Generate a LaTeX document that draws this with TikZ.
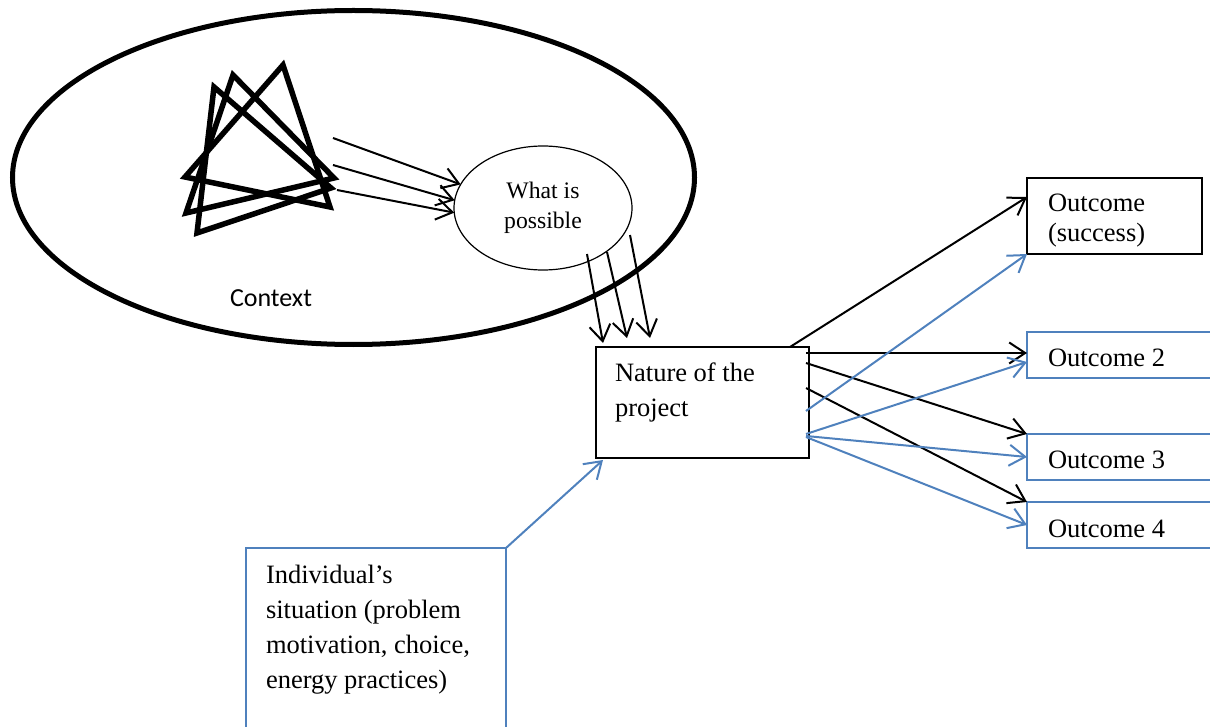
\documentclass[tikz,border=0pt]{standalone}
\usepackage{fontspec}
\setmainfont{Liberation Serif}
\newfontfamily\ctxfont{Carlito}
\usetikzlibrary{arrows.meta,shapes.geometric}
\definecolor{ofblue}{HTML}{4F81BD}
\begin{document}
\begin{tikzpicture}[x=1pt,y=-1pt,
  every node/.style={inner sep=0pt, outer sep=0pt},
  bodytext/.style={font=\fontsize{26.5}{35}\selectfont, align=left, anchor=base west},
  blackbox/.style={draw, line width=1.6pt, anchor=north west},
  bluebox/.style={draw=ofblue, line width=2.2pt, anchor=north west},
  karrow/.style={draw=black, line width=2pt, -{Straight Barb[length=16pt,width=21pt]}},
  barrow/.style={draw=ofblue, line width=2pt, -{Straight Barb[length=16pt,width=21pt]}},
  tri/.style={line width=5.5pt, line join=miter}]
\useasboundingbox (0,0) rectangle (1210,727);

% context ellipse and its label
\node[draw, ellipse, line width=5pt, minimum width=682pt, minimum height=334pt] (ctx) at (353.5,177.5) {};
\node[font=\ctxfont\fontsize{26}{30}\selectfont, anchor=base west] (ctxlabel) at (230,306) {Context};

% overlapping triangles
\draw[tri] (283,65) -- (185,177) -- (330,207) -- cycle;
\draw[tri] (233,75) -- (186,213) -- (334,178) -- cycle;
\draw[tri] (214,87) -- (197,233) -- (331,188) -- cycle;

% what is possible
\node[draw, ellipse, line width=1.2pt, minimum width=178pt, minimum height=124pt,
      font=\fontsize{23.7}{30}\selectfont, align=center] (wip) at (543,208) {What is\\possible};

% boxes
\node[blackbox, minimum width=213pt, minimum height=111pt] (nat) at (596,347) {};
\node[blackbox, line width=2.4pt, minimum width=175pt, minimum height=76pt] (o1) at (1027,178) {};
\node[bluebox, minimum width=250pt, minimum height=46pt] (o2) at (1027,332) {};
\node[bluebox, minimum width=250pt, minimum height=46pt] (o3) at (1027,434) {};
\node[bluebox, minimum width=250pt, minimum height=46pt] (o4) at (1027,502) {};
\node[bluebox, minimum width=260pt, minimum height=250pt] (ind) at (246,548) {};

% box texts (multi-line nodes sit on the baseline of their last line)
\node[bodytext] (nattxt) at (615,416) {Nature of the\\project};
\node[bodytext, font=\fontsize{26.5}{30}\selectfont] (o1txt) at (1048,242) {Outcome\\(success)};
\node[bodytext] (o2txt) at (1048,366) {Outcome 2};
\node[bodytext] (o3txt) at (1048,468) {Outcome 3};
\node[bodytext] (o4txt) at (1048,537) {Outcome 4};
\node[bodytext] (indtxt) at (266,688) {Individual’s\\situation (problem\\motivation, choice,\\energy practices)};

% arrows from the triangles into the ellipse
\coordinate (t1) at (333,138);
\coordinate (t2) at (333,165);
\coordinate (t3) at (337,190);
\draw[karrow] (t1) -- (wip.164);
\draw[karrow] (t2) -- (wip.175);
\draw[karrow] (t3) -- (wip.183);

% arrows down to the project
\coordinate (d1) at (587,254);
\coordinate (d2) at (607,252);
\coordinate (d3) at (630,235);
\draw[karrow] (d1) -- ([xshift=7pt,yshift=4pt]nat.north west);
\draw[karrow] (d2) -- ([xshift=31pt,yshift=9pt]nat.north west);
\draw[karrow] (d3) -- ([xshift=54pt,yshift=9pt]nat.north west);

% outcome arrows
\draw[karrow] ([xshift=-19pt]nat.north east) -- ([yshift=19pt]o1.west);
\draw[karrow] ([xshift=-3pt,yshift=-6pt]nat.north east) -- ([yshift=2pt]o2.west);
\draw[karrow] ([xshift=-3pt,yshift=-16pt]nat.north east) -- (o3.north west);
\draw[karrow] ([xshift=-3pt,yshift=-41pt]nat.north east) -- (o4.north west);
\draw[barrow] ([xshift=-3pt,yshift=-64pt]nat.north east) -- (o1.south west);
\draw[barrow] ([xshift=-3pt,yshift=-87pt]nat.north east) -- ([yshift=-7pt]o2.west);
\draw[barrow] ([xshift=-3pt,yshift=-89pt]nat.north east) -- (o3.west);
\draw[barrow] ([xshift=-3pt,yshift=-90pt]nat.north east) -- (o4.west);

% individual situation into the project
\draw[barrow] (ind.north east) -- ([xshift=7pt,yshift=-2pt]nat.south west);
\end{tikzpicture}
\end{document}
